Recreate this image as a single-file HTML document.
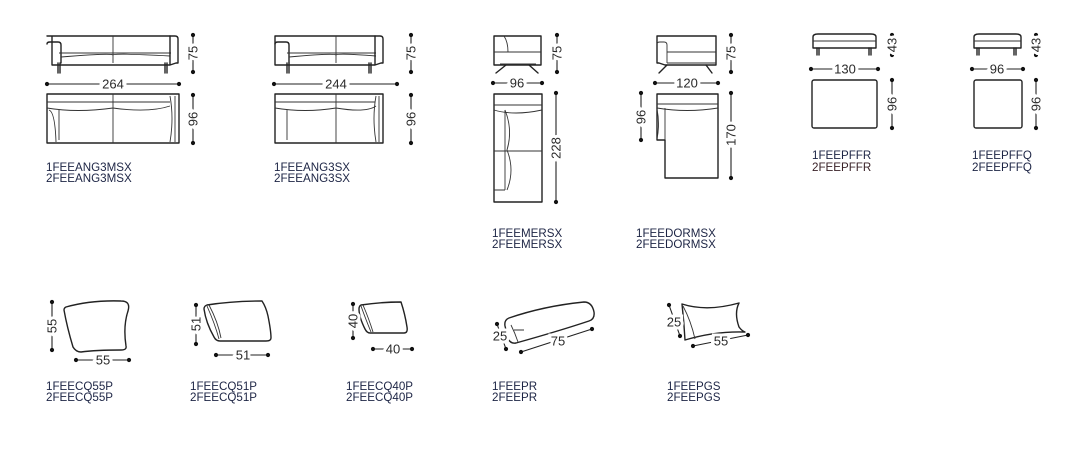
<!DOCTYPE html>
<html><head><meta charset="utf-8"><style>
html,body{margin:0;padding:0;background:#fff;}
svg{display:block;}
.l{fill:none;stroke:#222;stroke-width:1.4;stroke-linejoin:round;stroke-linecap:round}
.t{fill:none;stroke:#333;stroke-width:0.9}
.d{stroke:#222;stroke-width:1.1}
.n{font-family:"Liberation Sans",sans-serif;font-size:13px;fill:#2a2a2a;stroke:#fff;stroke-width:6px;paint-order:stroke;text-anchor:middle;dominant-baseline:central}
.c{font-family:"Liberation Sans",sans-serif;font-size:11.6px;fill:#1c2444}
</style></head><body>
<svg width="1077" height="454" viewBox="0 0 1077 454" xmlns="http://www.w3.org/2000/svg">
<defs>
<g id="dot"><circle r="2.1" fill="#111"/></g>
</defs>

<!-- ===== Sofa 264 ===== -->
<path class="l" d="M47 36 h128 q3 0 3 3 v24 h-2 l-6 2 h-118 v-29 z"/>
<path class="l" d="M47 44 q0-2 3-2 h8 q3 0 3 3 v18"/>
<path class="t" d="M59 53 h112 M113 36 v27 M61 57 q50 -4 52 -2 q2 -2 57 1"/>
<path class="l" d="M58 63 v10 M60 63 v10 M165 63 v10 M167 63 v10 M170 36 v28"/>
<line class="d" x1="193" y1="35" x2="193" y2="72"/><use href="#dot" x="193" y="35"/><use href="#dot" x="193" y="72"/>
<text class="n" x="193" y="53" transform="rotate(-90 193 53)">75</text>
<line class="d" x1="47" y1="84" x2="179" y2="84"/><use href="#dot" x="47" y="84"/><use href="#dot" x="179" y="84"/>
<text class="n" x="113" y="84">264</text>
<rect class="l" x="47" y="94" width="132" height="49"/>
<path class="t" d="M47 102 h123 M47 108 q30 5 66 0 q36 5 57 -2 M113 94 v49 M59 110 v30 M170 96 q4 22 0 46 M175 96 v46 M49 110 q6 2 7 32"/>
<line class="d" x1="193" y1="95" x2="193" y2="143"/><use href="#dot" x="193" y="95"/><use href="#dot" x="193" y="143"/>
<text class="n" x="193" y="119" transform="rotate(-90 193 119)">96</text>
<text class="c" x="46" y="171">1FEEANG3MSX</text>
<text class="c" x="46" y="182">2FEEANG3MSX</text>

<!-- ===== Sofa 244 ===== -->
<path class="l" d="M275 36 h105 q3 0 3 3 v24 h-2 l-6 2 h-100 v-29 z"/>
<path class="l" d="M275 44 q0-2 3-2 h8 q3 0 3 3 v18"/>
<path class="t" d="M287 53 h89 M336 36 v27 M289 57 q45 -4 47 -2 q2 -2 40 1"/>
<path class="l" d="M287 63 v10 M289 63 v10 M369 63 v10 M371 63 v10 M375 36 v28"/>
<line class="d" x1="411" y1="35" x2="411" y2="72"/><use href="#dot" x="411" y="35"/><use href="#dot" x="411" y="72"/>
<text class="n" x="411" y="53" transform="rotate(-90 411 53)">75</text>
<line class="d" x1="274" y1="84" x2="397" y2="84"/><use href="#dot" x="274" y="84"/><use href="#dot" x="397" y="84"/>
<text class="n" x="336" y="84">244</text>
<rect class="l" x="275" y="94" width="108" height="49"/>
<path class="t" d="M275 102 h100 M275 108 q30 5 61 0 q30 5 40 -2 M336 94 v49 M287 110 v30 M376 96 q-4 22 0 46 M379 96 v46"/>
<line class="d" x1="411" y1="95" x2="411" y2="143"/><use href="#dot" x="411" y="95"/><use href="#dot" x="411" y="143"/>
<text class="n" x="411" y="119" transform="rotate(-90 411 119)">96</text>
<text class="c" x="274" y="171">1FEEANG3SX</text>
<text class="c" x="274" y="182">2FEEANG3SX</text>

<!-- ===== 96/228 ===== -->
<path class="l" d="M494 36 h47 v29 h-47 z"/>
<path class="t" d="M494 52 h47 M504 36 q4 6 4 16 M500 64 h36"/>
<path class="l" d="M506 65 l-10 8 M529 65 l9 8"/>
<line class="d" x1="557" y1="35" x2="557" y2="72"/><use href="#dot" x="557" y="35"/><use href="#dot" x="557" y="72"/>
<text class="n" x="557" y="53" transform="rotate(-90 557 53)">75</text>
<line class="d" x1="493" y1="83" x2="542" y2="83"/><use href="#dot" x="493" y="83"/><use href="#dot" x="542" y="83"/>
<text class="n" x="517" y="83">96</text>
<rect class="l" x="494" y="94" width="48" height="108"/>
<path class="t" d="M494 105 h48 M494 110 q20 6 48 0 M494 151 h48 M505 110 v80 M505 110 q8 20 2 40 q8 20 0 40 M494 190 h11"/>
<line class="d" x1="556" y1="93" x2="556" y2="202"/><use href="#dot" x="556" y="93"/><use href="#dot" x="556" y="202"/>
<text class="n" x="556" y="148" transform="rotate(-90 556 148)">228</text>
<text class="c" x="492" y="237">1FEEMERSX</text>
<text class="c" x="492" y="248">2FEEMERSX</text>

<!-- ===== 120/170 ===== -->
<path class="l" d="M657 36 h59 v29 h-51 l-6 -2 h-2 v-24 z"/>
<path class="t" d="M657 44 q0-2 3-2 h4 q3 0 3 3 v18 M667 52 h49 M667 63 h49"/>
<path class="l" d="M667 65 l-8 8 M706 65 l6 8"/>
<line class="d" x1="731" y1="35" x2="731" y2="72"/><use href="#dot" x="731" y="35"/><use href="#dot" x="731" y="72"/>
<text class="n" x="731" y="53" transform="rotate(-90 731 53)">75</text>
<line class="d" x1="655" y1="83" x2="718" y2="83"/><use href="#dot" x="655" y="83"/><use href="#dot" x="718" y="83"/>
<text class="n" x="687" y="83">120</text>
<path class="l" d="M657 94 h61 v84 h-53 v-38 h-8 z"/>
<path class="t" d="M657 104 h61 M657 108 q30 5 61 0 M665 108 v32 M657 109 q3 15 0 30"/>
<line class="d" x1="641" y1="93" x2="641" y2="140"/><use href="#dot" x="641" y="93"/><use href="#dot" x="641" y="140"/>
<text class="n" x="641" y="117" transform="rotate(-90 641 117)">96</text>
<line class="d" x1="731" y1="93" x2="731" y2="178"/><use href="#dot" x="731" y="93"/><use href="#dot" x="731" y="178"/>
<text class="n" x="731" y="135" transform="rotate(-90 731 135)">170</text>
<text class="c" x="636" y="237">1FEEDORMSX</text>
<text class="c" x="636" y="248">2FEEDORMSX</text>

<!-- ===== Ottoman 130 ===== -->
<path class="l" d="M813 37 q0-3 5-3 h53 q5 0 5 3 v11 h-63 z"/>
<path class="t" d="M813 41 h63"/>
<path class="l" d="M817 48 v7 M819 48 v7 M869 48 v7 M871 48 v7"/>
<line class="d" x1="892" y1="35" x2="892" y2="55"/><use href="#dot" x="892" y="35"/><use href="#dot" x="892" y="55"/>
<text class="n" x="892" y="45" transform="rotate(-90 892 45)">43</text>
<line class="d" x1="811" y1="69" x2="878" y2="69"/><use href="#dot" x="811" y="69"/><use href="#dot" x="878" y="69"/>
<text class="n" x="845" y="69">130</text>
<rect class="l" x="812" y="80" width="65" height="48" rx="2"/>
<line class="d" x1="892" y1="80" x2="892" y2="128"/><use href="#dot" x="892" y="80"/><use href="#dot" x="892" y="128"/>
<text class="n" x="892" y="104" transform="rotate(-90 892 104)">96</text>
<text class="c" x="812" y="159">1FEEPFFR</text>
<text class="c" x="812" y="171" style="fill:#3a2228">2FEEPFFR</text>

<!-- ===== Ottoman 96 ===== -->
<path class="l" d="M974 37 q0-3 5-3 h37 q5 0 5 3 v11 h-47 z"/>
<path class="t" d="M974 41 h47"/>
<path class="l" d="M977 48 v7 M979 48 v7 M1014 48 v7 M1016 48 v7"/>
<line class="d" x1="1036" y1="35" x2="1036" y2="55"/><use href="#dot" x="1036" y="35"/><use href="#dot" x="1036" y="55"/>
<text class="n" x="1036" y="45" transform="rotate(-90 1036 45)">43</text>
<line class="d" x1="972" y1="69" x2="1023" y2="69"/><use href="#dot" x="972" y="69"/><use href="#dot" x="1023" y="69"/>
<text class="n" x="997" y="69">96</text>
<rect class="l" x="974" y="80" width="48" height="48" rx="2"/>
<line class="d" x1="1036" y1="80" x2="1036" y2="128"/><use href="#dot" x="1036" y="80"/><use href="#dot" x="1036" y="128"/>
<text class="n" x="1036" y="104" transform="rotate(-90 1036 104)">96</text>
<text class="c" x="972" y="159">1FEEPFFQ</text>
<text class="c" x="972" y="171">2FEEPFFQ</text>

<!-- ===== Cushion 55 ===== -->
<path class="l" d="M66 307 q25 -7 55 -6 q10 0 7 10 q-5 15 -2 35 q1 4 -5 4 q-25 0 -40 2 q-5 0 -8 -5 q-6 -20 -9 -37 q0 -2 2 -3 z"/>
<line class="d" x1="52" y1="302" x2="52" y2="350"/><use href="#dot" x="52" y="302"/><use href="#dot" x="52" y="350"/>
<text class="n" x="52" y="326" transform="rotate(-90 52 326)">55</text>
<line class="d" x1="76" y1="360" x2="129" y2="360"/><use href="#dot" x="76" y="360"/><use href="#dot" x="129" y="360"/>
<text class="n" x="103" y="360">55</text>
<text class="c" x="46" y="390">1FEECQ55P</text>
<text class="c" x="46" y="401">2FEECQ55P</text>

<!-- ===== Cushion 51 ===== -->
<path class="l" d="M207 305 q25 -4 55 -4 q4 6 6 15 q3 15 3 22 q0 3 -5 3 h-46 q-4 0 -6 -4 q-8 -14 -10 -28 q0 -3 3 -4 z"/>
<path class="t" d="M207 306 q8 18 12 33 M209 305 q9 17 12 33"/>
<line class="d" x1="196" y1="305" x2="196" y2="344"/><use href="#dot" x="196" y="305"/><use href="#dot" x="196" y="344"/>
<text class="n" x="196" y="324" transform="rotate(-90 196 324)">51</text>
<line class="d" x1="216" y1="355" x2="268" y2="355"/><use href="#dot" x="216" y="355"/><use href="#dot" x="268" y="355"/>
<text class="n" x="243" y="355">51</text>
<text class="c" x="190" y="390">1FEECQ51P</text>
<text class="c" x="190" y="401">2FEECQ51P</text>

<!-- ===== Cushion 40 ===== -->
<path class="l" d="M361 305 q20 -3 40 -3 q4 12 6 25 q1 6 -3 6 h-34 q-3 0 -5 -4 q-6 -12 -6 -20 q0 -3 2 -4 z"/>
<path class="t" d="M361 306 q5 14 10 26 M363 305 q6 14 10 27"/>
<line class="d" x1="353" y1="304" x2="353" y2="338"/><use href="#dot" x="353" y="304"/><use href="#dot" x="353" y="338"/>
<text class="n" x="353" y="321" transform="rotate(-90 353 321)">40</text>
<line class="d" x1="373" y1="349" x2="412" y2="349"/><use href="#dot" x="373" y="349"/><use href="#dot" x="412" y="349"/>
<text class="n" x="393" y="349">40</text>
<text class="c" x="346" y="390">1FEECQ40P</text>
<text class="c" x="346" y="401">2FEECQ40P</text>

<!-- ===== Roll PR ===== -->
<path class="l" d="M509 318 q35 -12 75 -16 q8 0 10 10 q1 7 -5 9 q-30 10 -73 22 q-6 1 -8 -5 l-3 -12 q-1 -6 4 -8 z"/>
<path class="t" d="M511 325 q4 8 7 17 M514 330 h10"/>
<line class="d" x1="497" y1="324" x2="506" y2="349" /><use href="#dot" x="497" y="324"/><use href="#dot" x="506" y="349"/>
<text class="n" x="500" y="336">25</text>
<line class="d" x1="521" y1="352" x2="592" y2="329"/><use href="#dot" x="521" y="352"/><use href="#dot" x="592" y="329"/>
<text class="n" x="558" y="341">75</text>
<text class="c" x="492" y="390">1FEEPR</text>
<text class="c" x="492" y="401">2FEEPR</text>

<!-- ===== Pillow PGS ===== -->
<path class="l" d="M682 304 q25 8 57 -1 q-5 10 0 24 q3 4 6 5 q-30 -1 -60 8 q-1 -18 -3 -36 z"/>
<path class="t" d="M683 306 q8 15 12 33"/>
<line class="d" x1="669" y1="305" x2="680" y2="336"/><use href="#dot" x="669" y="305"/><use href="#dot" x="680" y="336"/>
<text class="n" x="674" y="322">25</text>
<line class="d" x1="693" y1="346" x2="748" y2="335"/><use href="#dot" x="693" y="346"/><use href="#dot" x="748" y="335"/>
<text class="n" x="721" y="341">55</text>
<text class="c" x="667" y="390">1FEEPGS</text>
<text class="c" x="667" y="401">2FEEPGS</text>
</svg>
</body></html>
